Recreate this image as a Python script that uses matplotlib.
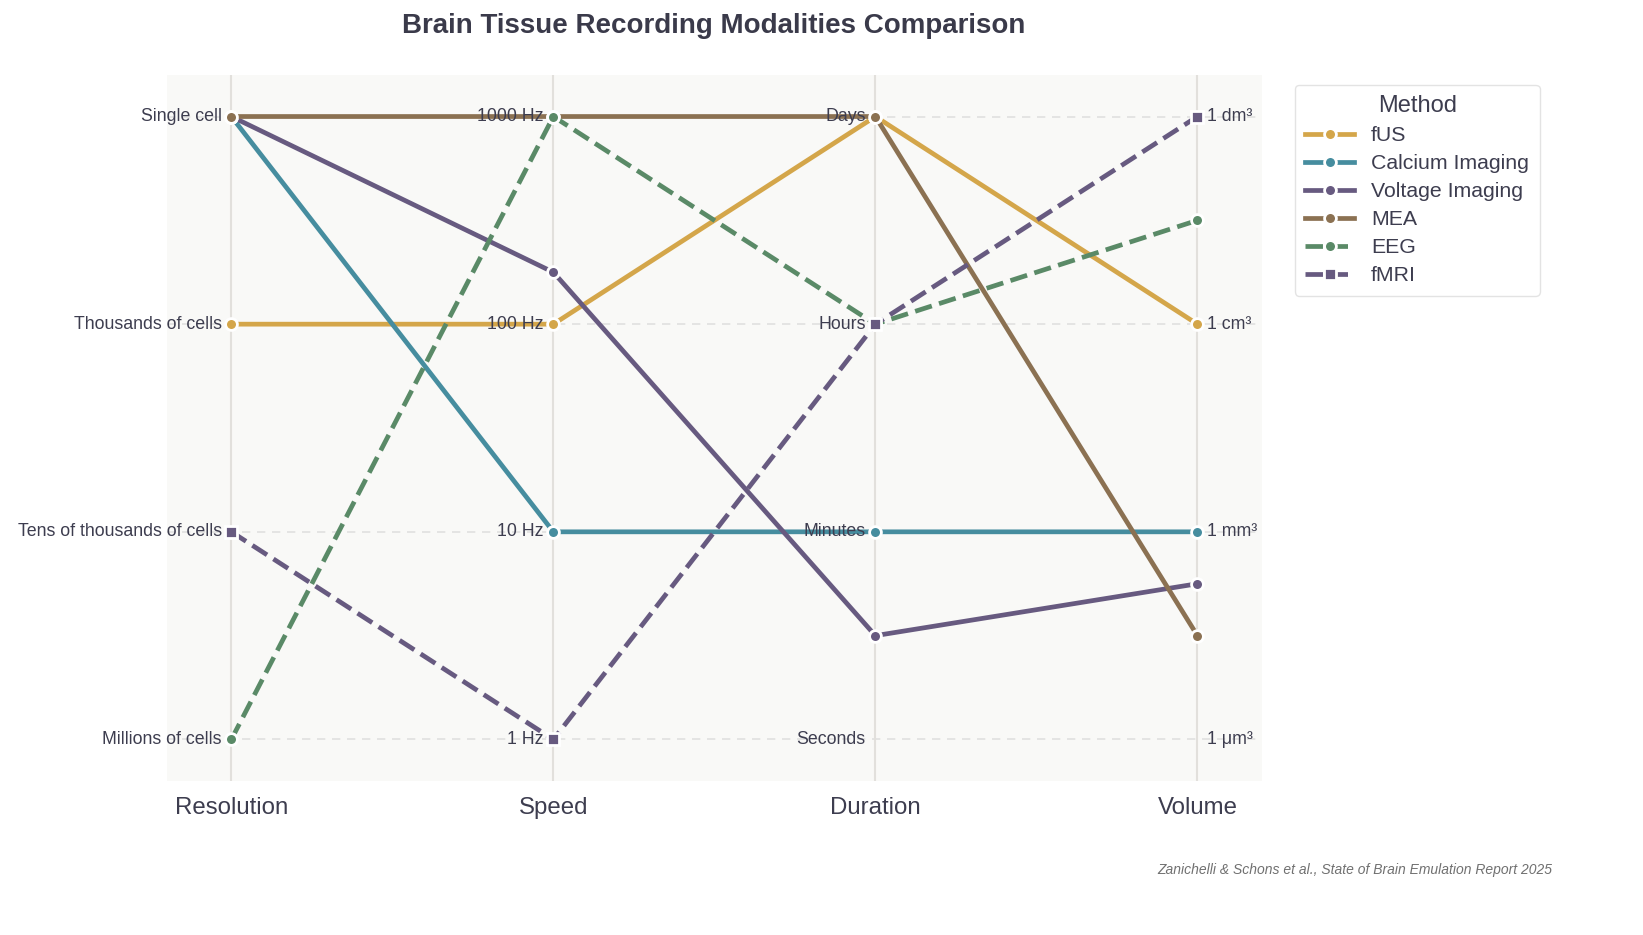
import matplotlib
matplotlib.use("Agg")
import matplotlib.pyplot as plt

plt.rcParams['font.family'] = ['Liberation Sans', 'DejaVu Sans']

dimensions = ["Resolution", "Speed", "Duration", "Volume"]
tick_labels = {
    "Resolution": ["Millions of cells", "Tens of thousands of cells", "Thousands of cells", "Single cell"],
    "Speed": ["1 Hz", "10 Hz", "100 Hz", "1000 Hz"],
    "Duration": ["Seconds", "Minutes", "Hours", "Days"],
    "Volume": ["1 μm³", "1 mm³", "1 cm³", "1 dm³"],
}
methods = ["fUS", "Calcium Imaging", "Voltage Imaging", "MEA", "EEG", "fMRI"]
fus = [2, 2, 3, 2]
calcium = [3, 1, 1, 1]
voltage = [3, 2.25, 0.5, 0.75]
mea = [3, 3, 3, 0.5]
eeg = [0, 3, 2, 2.5]
fmri = [1, 0, 2, 3]
values = [fus, calcium, voltage, mea, eeg, fmri]
colors = ["#D4A64A", "#468D9F", "#675A80", "#8B7152", "#5A8A67", "#675A80"]
styles = ["-", "-", "-", "-", "--", "--"]
markers = ["o", "o", "o", "o", "o", "s"]

fig = plt.figure(figsize=(16.43, 9.35), dpi=100)
ax = fig.add_axes([0.1016, 0.1647, 0.6664, 0.7551])
ax.set_facecolor("#F9F9F7")
for s in ax.spines.values():
    s.set_visible(False)
ax.set_xlim(-0.2, 3.2)
ax.set_ylim(-0.2, 3.2)
ax.set_xticks([])
ax.set_yticks([])

xs = list(range(len(dimensions)))
for lvl in range(4):
    ax.axhline(lvl, color="#E0E0E0", lw=1.2, ls=(0, (5, 4)), zorder=0)
for x in xs:
    ax.axvline(x, color="#E2E0DC", lw=1.5, zorder=0.5)

for name, vals, c, ls, m in zip(methods, values, colors, styles, markers):
    ax.plot(xs, vals, color=c, ls=ls, lw=3.4, marker=m, markersize=8.5,
            markeredgecolor="white", markeredgewidth=2, label=name, zorder=3)

for i, dim in enumerate(dimensions):
    for lvl, lab in enumerate(tick_labels[dim]):
        if i == len(dimensions) - 1:
            ax.text(i + 0.03, lvl, lab, ha="left", va="center", fontsize=12.8,
                    color="#3D3D4F", zorder=5)
        else:
            ax.text(i - 0.03, lvl, lab, ha="right", va="center", fontsize=12.8,
                    color="#3D3D4F", zorder=5)
    ax.text(i, -0.33, dim, ha="center", va="center", fontsize=17.3, color="#3D3D4F")

fig.text(0.4346, 0.972, "Brain Tissue Recording Modalities Comparison", ha="center",
         va="center", fontsize=20, fontweight="bold", color="#3A3A4A")

leg = ax.legend(title="Method", loc="upper left", bbox_to_anchor=(1.03, 0.986),
                borderaxespad=0, fontsize=15.3, title_fontsize=17, frameon=True,
                labelcolor="#3D3D4F", borderpad=0.5, handlelength=2.3, labelspacing=0.42)
leg.get_title().set_color("#3D3D4F")
leg.get_frame().set_edgecolor("#DDDDDD")
leg.get_frame().set_facecolor("white")

fig.text(0.9446, 0.0695, "Zanichelli & Schons et al., State of Brain Emulation Report 2025",
         ha="right", va="center", fontsize=10, style="italic", color="#707070")

fig.savefig("out.png", dpi=100, facecolor="white")
